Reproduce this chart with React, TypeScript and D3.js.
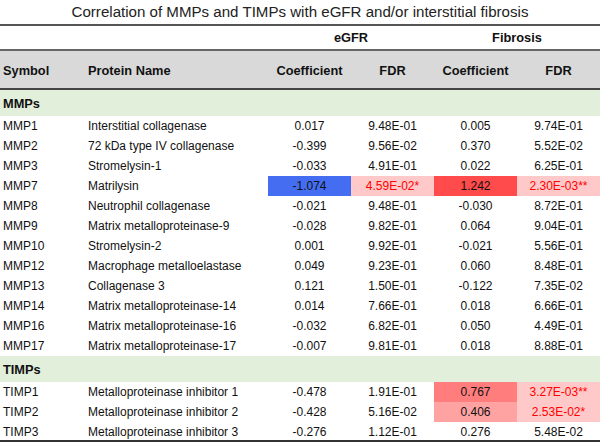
import * as d3 from "d3";

// table content
const groups = ["MMPs", "TIMPs"];
const symbols = [
  ["MMP1", "MMP2", "MMP3", "MMP7", "MMP8", "MMP9", "MMP10", "MMP12", "MMP13", "MMP14", "MMP16", "MMP17"],
  ["TIMP1", "TIMP2", "TIMP3"],
];
const proteinNames = [
  [
    "Interstitial collagenase",
    "72 kDa type IV collagenase",
    "Stromelysin-1",
    "Matrilysin",
    "Neutrophil collagenase",
    "Matrix metalloproteinase-9",
    "Stromelysin-2",
    "Macrophage metalloelastase",
    "Collagenase 3",
    "Matrix metalloproteinase-14",
    "Matrix metalloproteinase-16",
    "Matrix metalloproteinase-17",
  ],
  ["Metalloproteinase inhibitor 1", "Metalloproteinase inhibitor 2", "Metalloproteinase inhibitor 3"],
];
const egfrCoef = [
  [0.017, -0.399, -0.033, -1.074, -0.021, -0.028, 0.001, 0.049, 0.121, 0.014, -0.032, -0.007],
  [-0.478, -0.428, -0.276],
];
const egfrFdr = [
  [9.48e-1, 9.56e-2, 4.91e-1, 4.59e-2, 9.48e-1, 9.82e-1, 9.92e-1, 9.23e-1, 1.5e-1, 7.66e-1, 6.82e-1, 9.81e-1],
  [1.91e-1, 5.16e-2, 1.12e-1],
];
const fibCoef = [
  [0.005, 0.37, 0.022, 1.242, -0.03, 0.064, -0.021, 0.06, -0.122, 0.018, 0.05, 0.018],
  [0.767, 0.406, 0.276],
];
const fibFdr = [
  [9.74e-1, 5.52e-2, 6.25e-1, 2.3e-3, 8.72e-1, 9.04e-1, 5.56e-1, 8.48e-1, 7.35e-2, 6.66e-1, 4.49e-1, 8.88e-1],
  [3.27e-3, 2.53e-2, 5.48e-2],
];
const colHeaders = ["Symbol", "Protein Name", "Coefficient", "FDR", "Coefficient", "FDR"];
const spanHeaders = ["eGFR", "Fibrosis"];

const W = 600;
const H = 442;
const font = "'Liberation Sans', Arial, Helvetica, sans-serif";

// column edges of the 4 numeric columns
const colEdges = [268, 351, 434, 517, 600];

const coefColor = d3
  .scaleLinear<string>()
  .domain([-1.1, 0, 0.4, 1.25])
  .range(["#3f69f2", "#ffffff", "#ffa3a3", "#ff4a4a"]);

function fmtFdr(v: number) {
  const [m, e] = v.toExponential(2).split("e");
  const n = parseInt(e, 10);
  const exp = (n < 0 ? "-" : "+") + String(Math.abs(n)).padStart(2, "0");
  const stars = v < 0.01 ? "**" : v < 0.05 ? "*" : "";
  return `${m}E${exp}${stars}`;
}

type Row =
  | { kind: "group"; label: string; y0: number; y1: number }
  | { kind: "data"; cells: [string, string, number, number, number, number]; y0: number; y1: number };

export default function App() {
  const bodyTop = 90;
  const groupH = 26;
  const rowH = 20;

  const rows: Row[] = [];
  let y = bodyTop;
  groups.forEach((g, gi) => {
    rows.push({ kind: "group", label: g, y0: y, y1: y + groupH });
    y += groupH;
    symbols[gi].forEach((s, i) => {
      rows.push({
        kind: "data",
        cells: [s, proteinNames[gi][i], egfrCoef[gi][i], egfrFdr[gi][i], fibCoef[gi][i], fibFdr[gi][i]],
        y0: y,
        y1: y + rowH,
      });
      y += rowH;
    });
  });

  const colCenter = (i: number) => (colEdges[i] + colEdges[i + 1]) / 2;

  return (
    <svg width={W} height={H} style={{ position: "absolute", left: 0, top: 0 }} fontFamily={font}>
      <rect width={W} height={H} fill="#fff" />
      <text x={W / 2} y={11} textAnchor="middle" dominantBaseline="central" fontSize={15.1} fill="#222">
        Correlation of MMPs and TIMPs with eGFR and/or interstitial fibrosis
      </text>

      {/* header */}
      <rect x={0} y={50} width={W} height={39} fill="#d9d9d9" />
      {spanHeaders.map((h, i) => (
        <text key={h} x={colEdges[i * 2 + 1]} y={37.5} textAnchor="middle" dominantBaseline="central"
          fontSize={12.8} fontWeight="bold" fill="#111">
          {h}
        </text>
      ))}
      {colHeaders.map((h, i) => (
        <text key={i} x={i === 0 ? 3 : i === 1 ? 88 : colCenter(i - 2)} y={70}
          textAnchor={i < 2 ? "start" : "middle"} dominantBaseline="central"
          fontSize={12.8} fontWeight="bold" fill="#111">
          {h}
        </text>
      ))}

      {rows.map((r, ri) => {
        const cy = (r.y0 + r.y1) / 2;
        if (r.kind === "group") {
          return (
            <g key={ri}>
              <rect x={0} y={r.y0} width={W} height={r.y1 - r.y0} fill="#e2efda" />
              <text x={3} y={cy} dominantBaseline="central" fontSize={12.8} fontWeight="bold" fill="#111">
                {r.label}
              </text>
            </g>
          );
        }
        const [sym, name, ec, ef, fc, ff] = r.cells;
        const nums: { v: number; fdr: boolean; sigFdr: number }[] = [
          { v: ec, fdr: false, sigFdr: ef },
          { v: ef, fdr: true, sigFdr: ef },
          { v: fc, fdr: false, sigFdr: ff },
          { v: ff, fdr: true, sigFdr: ff },
        ];
        return (
          <g key={ri}>
            {nums.map((c, ci) =>
              c.sigFdr < 0.05 ? (
                <rect key={"b" + ci} x={colEdges[ci]} y={r.y0} width={colEdges[ci + 1] - colEdges[ci]}
                  height={r.y1 - r.y0} fill={c.fdr ? "#ffc9c9" : coefColor(c.v)} />
              ) : null
            )}
            <text x={3} y={cy} dominantBaseline="central" fontSize={12} fill="#111">{sym}</text>
            <text x={88} y={cy} dominantBaseline="central" fontSize={12} fill="#111">{name}</text>
            {nums.map((c, ci) => (
              <text key={"t" + ci} x={colCenter(ci)} y={cy} textAnchor="middle" dominantBaseline="central"
                fontSize={12} fill={c.fdr && c.v < 0.05 ? "#ff0000" : "#111"}>
                {c.fdr ? fmtFdr(c.v) : c.v.toFixed(3)}
              </text>
            ))}
          </g>
        );
      })}

      {/* rules */}
      <line x1={0} x2={W} y1={25} y2={25} stroke="#555" strokeWidth={2} />
      <line x1={0} x2={W} y1={50} y2={50} stroke="#666" strokeWidth={2} />
      <line x1={0} x2={W} y1={89} y2={89} stroke="#444" strokeWidth={2} />
      <line x1={0} x2={W} y1={y - 1} y2={y - 1} stroke="#333" strokeWidth={2} />
    </svg>
  );
}
